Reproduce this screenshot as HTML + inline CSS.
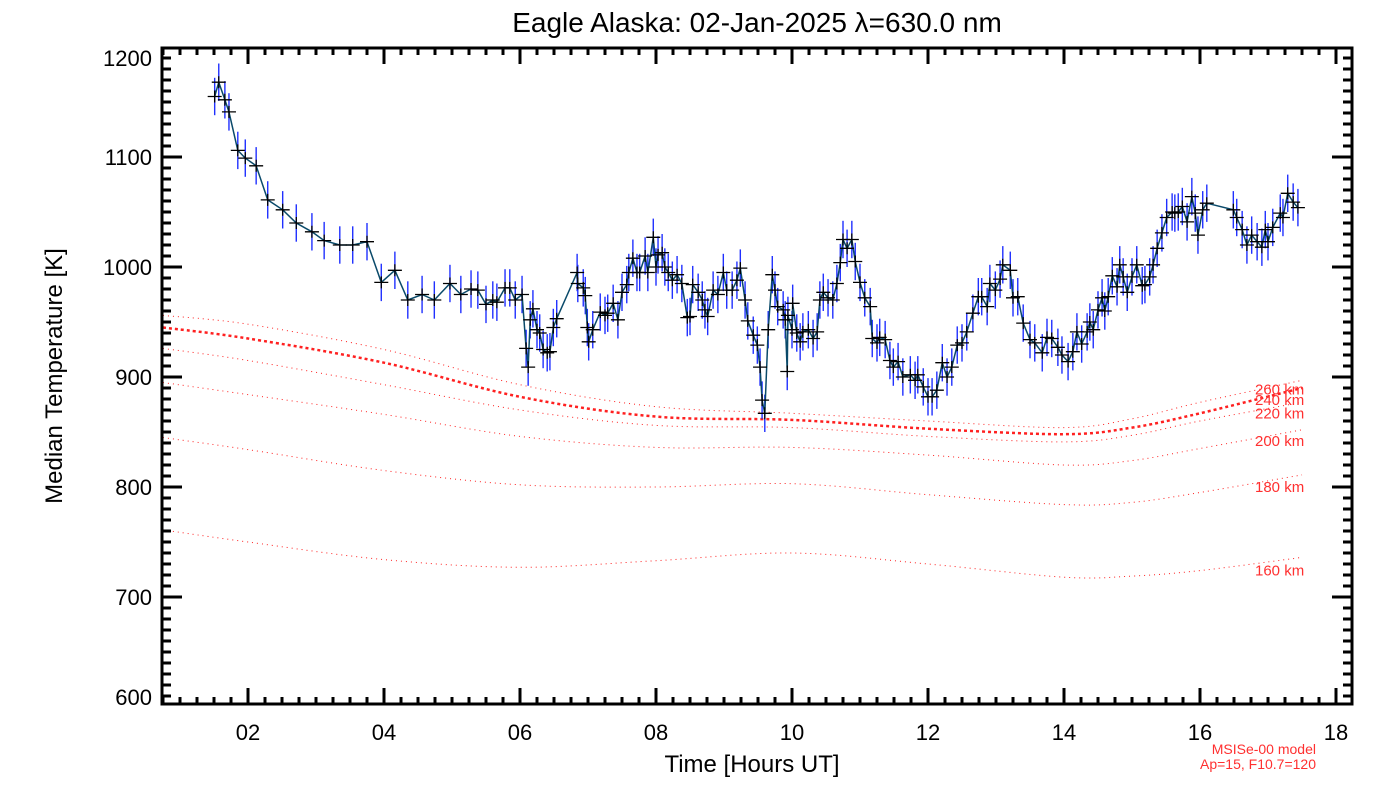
<!DOCTYPE html>
<html><head><meta charset="utf-8"><style>
html,body{margin:0;padding:0;background:#fff;}
svg{display:block;font-family:"Liberation Sans",sans-serif;}
</style></head><body>
<svg id="chart" width="1400" height="800" viewBox="0 0 1400 800" xmlns="http://www.w3.org/2000/svg">
<rect x="0" y="0" width="1400" height="800" fill="#fff"/>
<text x="757" y="32" font-size="28" text-anchor="middle" fill="#000">Eagle Alaska: 02-Jan-2025 λ=630.0 nm</text>
<g id="model"></g>
<g id="series"></g>
<g id="axes"></g>
<text x="752" y="772" font-size="24" text-anchor="middle" fill="#000">Time [Hours UT]</text>
<text x="62" y="376" font-size="24" text-anchor="middle" fill="#000" transform="rotate(-90 62 376)">Median Temperature [K]</text>
<text x="1316" y="754" font-size="14" text-anchor="end" fill="#ff3030">MSISe-00 model</text>
<text x="1316" y="769" font-size="14" text-anchor="end" fill="#ff3030">Ap=15, F10.7=120</text>
</svg>
<script>
const hours = [1.51,1.57,1.66,1.72,1.85,1.96,2.12,2.29,2.51,2.71,2.94,3.12,3.35,3.54,3.75,3.96,4.16,4.35,4.56,4.74,4.97,5.13,5.28,5.38,5.50,5.60,5.66,5.78,5.85,5.93,6.03,6.09,6.12,6.15,6.19,6.25,6.29,6.34,6.40,6.44,6.49,6.54,6.84,6.85,6.93,6.96,6.99,7.01,7.07,7.18,7.25,7.29,7.37,7.44,7.50,7.57,7.60,7.66,7.72,7.76,7.84,7.88,7.96,8.00,8.03,8.09,8.13,8.18,8.24,8.31,8.38,8.46,8.50,8.54,8.62,8.68,8.72,8.76,8.84,8.91,8.99,9.04,9.12,9.19,9.24,9.31,9.35,9.43,9.49,9.53,9.56,9.60,9.65,9.71,9.75,9.79,9.87,9.90,9.93,9.94,10.00,10.01,10.07,10.12,10.16,10.24,10.31,10.37,10.41,10.46,10.53,10.60,10.66,10.71,10.75,10.81,10.88,10.93,11.00,11.07,11.15,11.18,11.25,11.29,11.37,11.44,11.49,11.56,11.63,11.74,11.81,11.85,11.93,12.00,12.06,12.13,12.21,12.28,12.35,12.43,12.50,12.57,12.66,12.74,12.79,12.87,12.91,12.99,13.06,13.10,13.21,13.25,13.32,13.40,13.50,13.57,13.68,13.75,13.82,13.91,13.97,14.06,14.13,14.19,14.26,14.34,14.38,14.43,14.50,14.56,14.60,14.65,14.71,14.78,14.82,14.87,14.93,15.00,15.07,15.15,15.19,15.26,15.31,15.37,15.44,15.51,15.59,15.63,15.68,15.74,15.81,15.88,15.93,15.97,16.04,16.10,16.49,16.54,16.62,16.69,16.76,16.84,16.91,16.96,17.00,17.07,17.18,17.22,17.29,17.37,17.44];
const temps = [1155,1168,1152,1141,1106,1099,1092,1061,1052,1040,1032,1024,1020,1020,1023,986,997,970,975,970,985,975,980,979,966,970,968,981,981,970,975,926,909,952,962,943,940,925,922,923,945,953,995,985,981,974,945,932,943,959,956,958,967,952,977,984,995,1008,995,995,1010,995,1027,1000,1011,1013,1000,995,988,993,985,954,955,984,977,970,961,955,979,975,995,979,979,988,999,970,951,938,929,909,879,867,943,993,979,964,961,952,905,956,943,967,940,932,941,943,935,941,970,977,972,970,985,1004,1025,1017,1025,1005,986,972,964,935,931,936,934,915,909,914,900,902,897,902,891,882,882,888,913,900,909,929,931,941,958,973,973,964,985,979,989,1002,997,972,973,949,934,931,922,936,935,927,920,914,923,941,930,941,950,943,961,972,960,973,992,982,1002,991,977,991,1002,983,984,991,1002,1017,1031,1045,1050,1049,1050,1055,1041,1064,1049,1029,1052,1058,1052,1045,1034,1020,1029,1023,1018,1034,1023,1036,1049,1045,1067,1059,1054,1045,1058];
const errBar = 17;
const modelHours = [0.75,2,4,6,8,10,12,14,15,16,17.5];
const model160 = [761,750,734,727,733,740,730,718,719,724,736];
const model180 = [845,834,815,802,800,803,793,784,786,795,811];
const model200 = [895,884,866,846,836,836,829,820,824,835,852];
const model220 = [926,915,893,870,856,854,846,841,847,860,877];
const model240 = [945,935,913,882,864,861,853,848,854,867,890];
const model260 = [956,948,925,893,873,867,860,854,862,877,897];
const modelLabels = ["160 km","180 km","200 km","220 km","240 km","260 km"];
const xTicks = ["02","04","06","08","10","12","14","16","18"];
const yTicks = [600,700,800,900,1000,1100,1200];

const NS="http://www.w3.org/2000/svg";
const L=162,R=1352,T=48,B=704;
const xs=h=>112+68*h;
const ys=v=>267-(v-1000)*1.1;
function mk(tag,attrs,parent){const e=document.createElementNS(NS,tag);for(const k in attrs)e.setAttribute(k,attrs[k]);parent.appendChild(e);return e;}
const axes=document.getElementById('axes'),series=document.getElementById('series'),model=document.getElementById('model');

const curves=[model160,model180,model200,model220,model240,model260];
const labelOff=[18,17,16,16,17,14];
function smooth(pts){let d=`M${pts[0][0]},${pts[0][1]}`;for(let i=0;i<pts.length-1;i++){const p0=pts[Math.max(0,i-1)],p1=pts[i],p2=pts[i+1],p3=pts[Math.min(pts.length-1,i+2)];const c1=[p1[0]+(p2[0]-p0[0])/6,p1[1]+(p2[1]-p0[1])/6],c2=[p2[0]-(p3[0]-p1[0])/6,p2[1]-(p3[1]-p1[1])/6];d+=` C${c1[0]},${c1[1]} ${c2[0]},${c2[1]} ${p2[0]},${p2[1]}`;}return d;}
curves.forEach((c,i)=>{
  const pts=modelHours.map((h,j)=>[Math.max(L,xs(h)),ys(c[j])]);
  const thick=i===4;
  const p=mk('path',{d:smooth(pts),fill:'none',stroke:'#ff2020','stroke-width':thick?2.5:1,'stroke-dasharray':thick?'3 3':'1 4'},model);
  
  
  const t=mk('text',{x:1255,y:ys(c[c.length-1])+labelOff[i],'font-size':15,fill:'#ff3030'},model);
  t.textContent=modelLabels[i];
  
  
});

hours.forEach((h,i)=>{
  const l=mk('line',{x1:xs(h),x2:xs(h),y1:ys(temps[i]+errBar),y2:ys(temps[i]-errBar),stroke:'#2030ff','stroke-width':1.4},series);
  
  
});
const ln=mk('polyline',{points:hours.map((h,i)=>xs(h)+','+ys(temps[i])).join(' '),fill:'none',stroke:'#0a4a6a','stroke-width':1.5},series);


hours.forEach((h,i)=>{
  const x=xs(h),y=ys(temps[i]);
  const p=mk('path',{d:`M${x-7},${y}H${x+7}M${x},${y-6}V${y+6}`,stroke:'#000','stroke-width':1.3,fill:'none'},series);
  
  
});

const box=mk('rect',{x:L,y:T,width:R-L,height:B-T,fill:'none',stroke:'#000','stroke-width':3},axes);


for(let q=3;q<=73;q++){const h=q*0.25;const x=xs(h);if(x<=L||x>=R)continue;const major=q%8===0;const len=major?16:7;
  mk('line',{x1:x,x2:x,y1:B,y2:B-len,stroke:'#000','stroke-width':3},axes);
  mk('line',{x1:x,x2:x,y1:T,y2:T+len,stroke:'#000','stroke-width':3},axes);}
xTicks.forEach(s=>{const t=mk('text',{x:xs(+s),y:740,'font-size':22,'text-anchor':'middle',fill:'#000'},axes);t.textContent=s;
  
  });
for(let v=610;v<=1200;v+=10){const y=ys(v);if(y<=T||y>=B)continue;const major=v%100===0;const len=major?20:9;
  mk('line',{x1:L,x2:L+len,y1:y,y2:y,stroke:'#000','stroke-width':3},axes);
  mk('line',{x1:R,x2:R-len,y1:y,y2:y,stroke:'#000','stroke-width':3},axes);}
yTicks.forEach(v=>{const t=mk('text',{x:152,y:Math.min(Math.max(ys(v),58),697)+8,'font-size':22,'text-anchor':'end',fill:'#000'},axes);t.textContent=v;
  
  });
</script>
</body></html>
